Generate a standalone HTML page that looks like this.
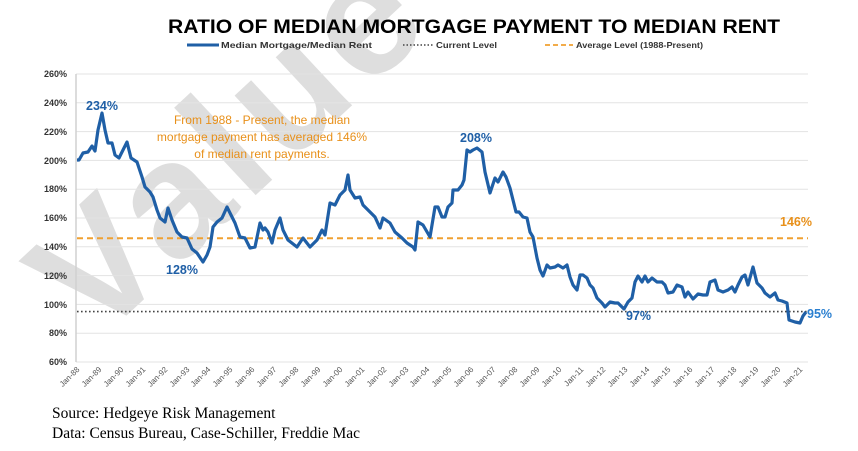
<!DOCTYPE html>
<html><head><meta charset="utf-8"><style>
html,body{margin:0;padding:0;background:#fff;width:858px;height:451px;overflow:hidden}
svg{display:block;font-family:"Liberation Sans",sans-serif}
</style></head><body>
<svg width="858" height="451" viewBox="0 0 858 451" xmlns="http://www.w3.org/2000/svg">
<!-- watermark -->
<text x="0" y="0" transform="translate(95,345) rotate(-43)" font-size="165" font-weight="bold" fill="#dedede" letter-spacing="8" textLength="470" lengthAdjust="spacingAndGlyphs">Value</text>
<!-- title -->
<text x="474" y="33" text-anchor="middle" font-size="19" font-weight="bold" fill="#000" textLength="612" lengthAdjust="spacingAndGlyphs">RATIO OF MEDIAN MORTGAGE PAYMENT TO MEDIAN RENT</text>
<!-- legend -->
<line x1="187" y1="45" x2="219" y2="45" stroke="#1f5fa6" stroke-width="3"/>
<text x="221" y="48" font-size="8.5" font-weight="bold" fill="#333" textLength="151" lengthAdjust="spacingAndGlyphs">Median Mortgage/Median Rent</text>
<line x1="403" y1="45" x2="433" y2="45" stroke="#444" stroke-width="1.5" stroke-dasharray="1.5,2"/>
<text x="436" y="48" font-size="8.5" font-weight="bold" fill="#333" textLength="61" lengthAdjust="spacingAndGlyphs">Current Level</text>
<line x1="545" y1="45" x2="573" y2="45" stroke="#f0a030" stroke-width="1.8" stroke-dasharray="5,3"/>
<text x="576" y="48" font-size="8.5" font-weight="bold" fill="#333" textLength="127" lengthAdjust="spacingAndGlyphs">Average Level (1988-Present)</text>
<!-- grid -->
<g stroke="#e3e3e3" stroke-width="1">
<line x1="76" y1="74" x2="808" y2="74"/><line x1="76" y1="102.8" x2="808" y2="102.8"/>
<line x1="76" y1="131.6" x2="808" y2="131.6"/><line x1="76" y1="160.4" x2="808" y2="160.4"/>
<line x1="76" y1="189.2" x2="808" y2="189.2"/><line x1="76" y1="218" x2="808" y2="218"/>
<line x1="76" y1="246.8" x2="808" y2="246.8"/><line x1="76" y1="275.6" x2="808" y2="275.6"/>
<line x1="76" y1="304.4" x2="808" y2="304.4"/><line x1="76" y1="333.2" x2="808" y2="333.2"/>
<line x1="76" y1="362" x2="808" y2="362"/>
</g>
<line x1="76" y1="74" x2="76" y2="362" stroke="#d0d0d0" stroke-width="1.5"/>
<g font-size="9" font-weight="bold" fill="#333" text-anchor="end">
<text x="67" y="77">260%</text><text x="67" y="106">240%</text><text x="67" y="135">220%</text>
<text x="67" y="164">200%</text><text x="67" y="192">180%</text><text x="67" y="221">160%</text>
<text x="67" y="250">140%</text><text x="67" y="279">120%</text><text x="67" y="308">100%</text>
<text x="67" y="336">80%</text><text x="67" y="365">60%</text>
</g>
<!-- ref lines -->
<line x1="77" y1="238.2" x2="808" y2="238.2" stroke="#f0a030" stroke-width="2" stroke-dasharray="6,4"/>
<line x1="77" y1="311.6" x2="808" y2="311.6" stroke="#444" stroke-width="1.6" stroke-dasharray="1.6,2.4"/>
<!-- series -->
<polyline fill="none" stroke="#1f5fa6" stroke-width="3.2" stroke-linejoin="round" points="77,160 79,160 83,153 88,152 92,146 95,151 98,130 102,113 105,130 108,143 112,143 115,155 119,158 123,150 127,142 131,158 137,162 142,177 145,187 150,192 153,197 157,210 160,218 165,222 168,208 172,220 177,232 182,237 187,238 192,249 197,253 203,262 207,255 210,247 213,227 217,222 222,218 227,207 230,213 235,223 240,237 245,238 250,248 255,247 260,223 263,230 265,228 268,232 272,243 275,230 280,218 283,230 288,240 297,247 303,238 310,247 317,240 322,230 325,235 330,203 335,205 340,195 345,190 348,175 350,190 355,198 360,197 363,205 368,210 375,217 380,228 383,218 390,223 395,232 402,238 407,243 413,247 415,250 418,222 423,225 430,237 435,207 438,207 442,217 445,217 448,207 452,203 453,190 458,190 462,185 464,180 467,150 470,152 473,150 477,148 482,152 485,172 490,193 495,178 498,182 503,172 506,177 510,188 513,200 516,212 519,212 523,217 527,218 530,232 533,237 537,258 540,270 543,276 547,265 550,268 555,267 558,265 563,268 567,265 570,277 573,285 577,290 580,275 583,275 587,278 590,285 593,288 597,298 602,303 605,307 610,302 615,303 618,303 622,307 624,309 628,302 632,298 635,282 638,276 642,282 645,276 648,282 652,278 657,282 662,282 665,285 668,293 673,292 677,285 682,287 685,297 688,292 693,299 698,294 703,295 707,295 710,282 715,280 718,290 723,292 728,290 732,287 735,292 738,285 742,277 745,275 748,285 753,267 757,283 762,288 765,293 770,297 775,293 778,300 782,301 787,303 789,320 795,322 800,323 803,316 806,312"/>
<!-- annotations -->
<g font-size="12.5" font-weight="bold" fill="#1f5fa6">
<text x="86" y="110">234%</text><text x="166" y="274">128%</text>
<text x="460" y="142">208%</text><text x="626" y="320">97%</text>
<text x="807" y="318" fill="#2a7fd0">95%</text>
</g>
<text x="780" y="226" font-size="12.5" font-weight="bold" fill="#e8901a">146%</text>
<g font-size="12" fill="#e8901a" text-anchor="middle">
<text x="262" y="124">From 1988 - Present, the median</text>
<text x="262" y="141">mortgage payment has averaged 146%</text>
<text x="262" y="158">of median rent payments.</text>
</g>
<g font-family="Liberation Serif,serif" font-size="15.5" fill="#000">
<text x="52" y="418">Source: Hedgeye Risk Management</text>
<text x="52" y="438">Data: Census Bureau, Case-Schiller, Freddie Mac</text>
</g>
<g font-size="8" fill="#555" text-anchor="end">
<text transform="translate(80,370) rotate(-45)">Jan-88</text>
<text transform="translate(102,370) rotate(-45)">Jan-89</text>
<text transform="translate(124,370) rotate(-45)">Jan-90</text>
<text transform="translate(146,370) rotate(-45)">Jan-91</text>
<text transform="translate(168,370) rotate(-45)">Jan-92</text>
<text transform="translate(190,370) rotate(-45)">Jan-93</text>
<text transform="translate(211,370) rotate(-45)">Jan-94</text>
<text transform="translate(233,370) rotate(-45)">Jan-95</text>
<text transform="translate(255,370) rotate(-45)">Jan-96</text>
<text transform="translate(277,370) rotate(-45)">Jan-97</text>
<text transform="translate(299,370) rotate(-45)">Jan-98</text>
<text transform="translate(321,370) rotate(-45)">Jan-99</text>
<text transform="translate(343,370) rotate(-45)">Jan-00</text>
<text transform="translate(365,370) rotate(-45)">Jan-01</text>
<text transform="translate(387,370) rotate(-45)">Jan-02</text>
<text transform="translate(409,370) rotate(-45)">Jan-03</text>
<text transform="translate(430,370) rotate(-45)">Jan-04</text>
<text transform="translate(452,370) rotate(-45)">Jan-05</text>
<text transform="translate(474,370) rotate(-45)">Jan-06</text>
<text transform="translate(496,370) rotate(-45)">Jan-07</text>
<text transform="translate(518,370) rotate(-45)">Jan-08</text>
<text transform="translate(540,370) rotate(-45)">Jan-09</text>
<text transform="translate(562,370) rotate(-45)">Jan-10</text>
<text transform="translate(584,370) rotate(-45)">Jan-11</text>
<text transform="translate(606,370) rotate(-45)">Jan-12</text>
<text transform="translate(628,370) rotate(-45)">Jan-13</text>
<text transform="translate(650,370) rotate(-45)">Jan-14</text>
<text transform="translate(671,370) rotate(-45)">Jan-15</text>
<text transform="translate(693,370) rotate(-45)">Jan-16</text>
<text transform="translate(715,370) rotate(-45)">Jan-17</text>
<text transform="translate(737,370) rotate(-45)">Jan-18</text>
<text transform="translate(759,370) rotate(-45)">Jan-19</text>
<text transform="translate(781,370) rotate(-45)">Jan-20</text>
<text transform="translate(803,370) rotate(-45)">Jan-21</text>
</g>
</svg>
</body></html>
